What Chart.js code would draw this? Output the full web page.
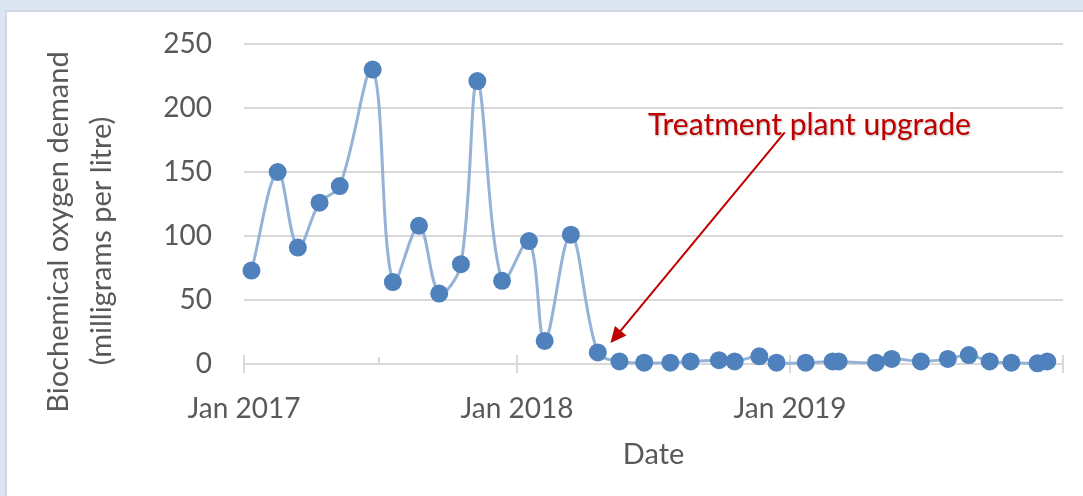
<!DOCTYPE html>
<html><head><meta charset="utf-8">
<script src="https://cdn.jsdelivr.net/npm/chart.js@4"></script>
<style>
html,body{margin:0;padding:0;background:#dce6f2;overflow:hidden}
#wrap{position:absolute;left:0;top:0;width:1083px;height:496px}
</style></head>
<body><div id="wrap"><canvas id="c" width="1083" height="496"></canvas></div>
<script>
// ---- data ----
const sampleDates = ['2017-01-11','2017-02-15','2017-03-14','2017-04-12','2017-05-09','2017-06-22',
  '2017-07-19','2017-08-23','2017-09-19','2017-10-18','2017-11-09','2017-12-12',
  '2018-01-17','2018-02-07','2018-03-14','2018-04-19','2018-05-18','2018-06-20',
  '2018-07-25','2018-08-21','2018-09-28','2018-10-19','2018-11-21','2018-12-14',
  '2019-01-22','2019-02-27','2019-03-07','2019-04-26','2019-05-17','2019-06-25',
  '2019-07-31','2019-08-28','2019-09-25','2019-10-24','2019-11-28','2019-12-11'];
const bodValues = [73,150,91,126,139,230,64,108,55,78,221,65,96,18,101,9,2,1,1,2,3,2,6,1,1,2,2,1,4,2,4,7,2,1,0.5,2];
const xTickDates = ['2017-01-01','2017-07-01','2018-01-01','2018-07-01','2019-01-01','2019-07-01','2020-01-01'];
const xTickLabels = ['Jan 2017','','Jan 2018','','Jan 2019','',''];
const xMajorTicks = [true,false,true,false,true,false,true];
const yTicks = [0,50,100,150,200,250];
const yTitleLines = ['Biochemical oxygen demand','(milligrams per litre)'];
const xTitle = 'Date';
const annotationText = 'Treatment plant upgrade';
const annotationLabelAt = {date:'2019-01-27', value:179};
const arrowFrom = {date:'2018-12-25', value:181};
const arrowTo = {date:'2018-05-06', value:16.4};

// ---- helpers ----
const epoch = Date.parse('2017-01-01');
const toDay = d => (Date.parse(d) - epoch) / 86400000;
const TEXT = '#595959';
const FONT = 'Lato';

const bgPlugin = {
  id:'bg',
  beforeDraw(chart){
    const ctx = chart.ctx;
    ctx.save();
    ctx.fillStyle = '#dce6f2';
    ctx.fillRect(0,0,chart.width,chart.height);
    ctx.fillStyle = '#d3d8de';
    ctx.fillRect(5,10,chart.width,chart.height);
    ctx.fillStyle = '#ffffff';
    ctx.fillRect(7,12,chart.width,chart.height);
    ctx.restore();
  }
};

const extrasPlugin = {
  id:'extras',
  beforeDatasetsDraw(chart){
    const ctx = chart.ctx, xs = chart.scales.x, ys = chart.scales.y;
    const base = ys.getPixelForValue(0);
    ctx.save();
    ctx.strokeStyle = '#d9d9d9';
    ctx.lineWidth = 2;
    xTickDates.forEach((d,i)=>{
      const px = Math.round(xs.getPixelForValue(toDay(d)));
      ctx.beginPath();
      if (xMajorTicks[i]) { ctx.moveTo(px, base-9); ctx.lineTo(px, base+9); }
      else { ctx.moveTo(px, base-7); ctx.lineTo(px, base); }
      ctx.stroke();
    });
    ctx.restore();
  },
  afterDraw(chart){
    const ctx = chart.ctx, xs = chart.scales.x, ys = chart.scales.y, ca = chart.chartArea;
    ctx.save();
    // y-axis title (two lines, rotated)
    ctx.fillStyle = TEXT;
    ctx.font = '29px ' + FONT;
    ctx.textAlign = 'center';
    ctx.textBaseline = 'middle';
    const yMid = (ca.top + ca.bottom)/2;
    const linePos = [[59, yMid+28],[102, yMid+37]];
    yTitleLines.forEach((t,i)=>{
      ctx.save();
      ctx.translate(linePos[i][0], linePos[i][1]);
      ctx.rotate(-Math.PI/2);
      ctx.fillText(t,0,0);
      ctx.restore();
    });
    // annotation arrow
    const x1 = xs.getPixelForValue(toDay(arrowFrom.date)), y1 = ys.getPixelForValue(arrowFrom.value);
    const x2 = xs.getPixelForValue(toDay(arrowTo.date)), y2 = ys.getPixelForValue(arrowTo.value);
    const ang = Math.atan2(y2-y1, x2-x1);
    const hl = 16, hw = 7.5;
    ctx.strokeStyle = '#c00000';
    ctx.fillStyle = '#c00000';
    ctx.lineWidth = 2;
    ctx.beginPath();
    ctx.moveTo(x1,y1);
    ctx.lineTo(x2 - Math.cos(ang)*hl*0.8, y2 - Math.sin(ang)*hl*0.8);
    ctx.stroke();
    ctx.beginPath();
    ctx.moveTo(x2,y2);
    ctx.lineTo(x2 - Math.cos(ang)*hl + Math.sin(ang)*hw, y2 - Math.sin(ang)*hl - Math.cos(ang)*hw);
    ctx.lineTo(x2 - Math.cos(ang)*hl - Math.sin(ang)*hw, y2 - Math.sin(ang)*hl + Math.cos(ang)*hw);
    ctx.closePath();
    ctx.fill();
    // annotation label
    ctx.font = '30px ' + FONT;
    ctx.textAlign = 'center';
    ctx.textBaseline = 'alphabetic';
    ctx.shadowColor = 'rgba(0,0,0,0.28)';
    ctx.shadowOffsetX = 1; ctx.shadowOffsetY = 1; ctx.shadowBlur = 2;
    ctx.fillStyle = '#c00000';
    ctx.fillText(annotationText, xs.getPixelForValue(toDay(annotationLabelAt.date)), ys.getPixelForValue(annotationLabelAt.value));
    ctx.restore();
  }
};

function draw(){
  new Chart(document.getElementById('c'), {
    type:'line',
    data:{
      datasets:[{
        data: sampleDates.map((d,i)=>({x:toDay(d), y:bodValues[i]})),
        borderColor:'#95b3d7',
        borderWidth:3,
        backgroundColor:'#4f81bd',
        pointBackgroundColor:'#4f81bd',
        pointBorderWidth:0,
        pointRadius:9,
        tension:0.35,
        fill:false,
        clip:false
      }]
    },
    options:{
      responsive:false,
      animation:false,
      devicePixelRatio:1,
      layout:{autoPadding:false, padding:{left:0,top:44,right:20,bottom:0}},
      plugins:{legend:{display:false},tooltip:{enabled:false}},
      scales:{
        x:{
          type:'linear',
          min:toDay(xTickDates[0]),
          max:toDay(xTickDates[xTickDates.length-1]),
          afterBuildTicks:s=>{ s.ticks = xTickDates.map(d=>({value:toDay(d)})); },
          afterFit:s=>{ s.height = 132; },
          grid:{display:false},
          border:{display:true,color:'#d9d9d9',width:2},
          ticks:{autoSkip:false,maxRotation:0,minRotation:0,padding:20,color:TEXT,
            font:{family:FONT,size:28},
            callback:(v,i)=>xTickLabels[i]},
          title:{display:true,text:xTitle,color:TEXT,font:{family:FONT,size:29},padding:{top:0,bottom:24}}
        },
        y:{
          min:0,max:250,
          afterBuildTicks:s=>{ s.ticks = yTicks.map(v=>({value:v})); },
          afterFit:s=>{ s.width = 244; s.paddingTop = 0; s.paddingBottom = 0; },
          grid:{color:'#d9d9d9',lineWidth:2,drawTicks:false},
          border:{display:false},
          ticks:{padding:32,color:TEXT,font:{family:FONT,size:28}}
        }
      }
    },
    plugins:[bgPlugin, extrasPlugin]
  });
}
if (document.fonts && document.fonts.load) {
  Promise.all([document.fonts.load('28px Lato'), document.fonts.load('30px Lato')]).then(draw, draw);
} else { draw(); }
</script>
</body></html>
